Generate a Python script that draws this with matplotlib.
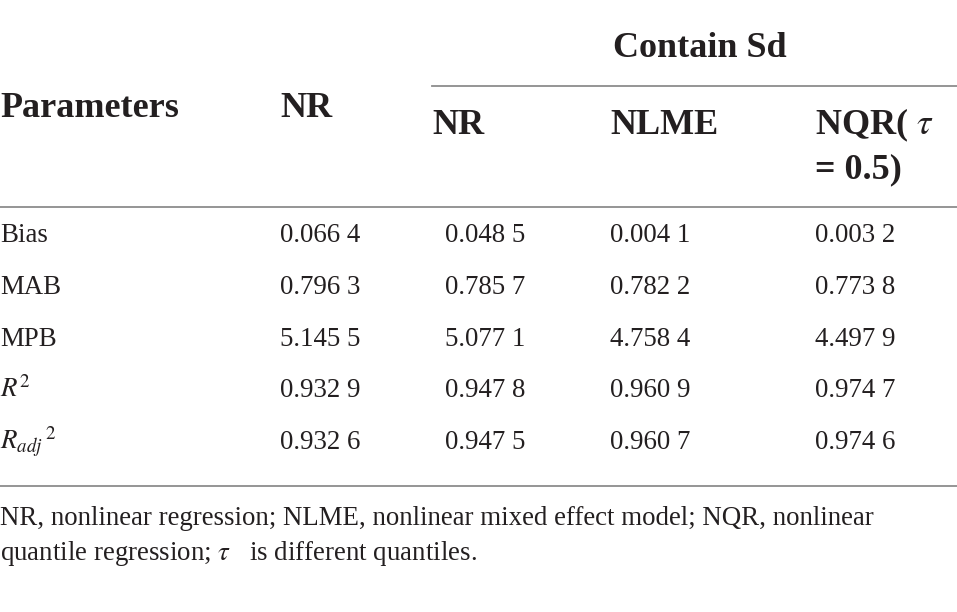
import matplotlib
matplotlib.use("Agg")
import matplotlib.pyplot as plt

plt.rcParams['font.family'] = ['Liberation Serif', 'DejaVu Serif']
plt.rcParams['mathtext.fontset'] = 'stix'

# 表格数据
params = ['Bias', 'MAB', 'MPB', '$R^{2}$', '$R_{adj}\\,^{2}$']
nr = [0.0664, 0.7963, 5.1455, 0.9329, 0.9326]
sd_nr = [0.0485, 0.7857, 5.0771, 0.9478, 0.9475]
sd_nlme = [0.0041, 0.7822, 4.7584, 0.9609, 0.9607]
sd_nqr = [0.0032, 0.7738, 4.4979, 0.9747, 0.9746]
note = ['NR, nonlinear regression; NLME, nonlinear mixed effect model; NQR, nonlinear',
        'quantile regression; $\\tau$   is different quantiles.']


def fmt(v):
    s = '%.4f' % v
    return s[:-1] + ' ' + s[-1]


W, H = 957, 612
fig = plt.figure(figsize=(W / 100, H / 100), dpi=100)
ax = fig.add_axes([0, 0, 1, 1])
ax.set_xlim(0, W)
ax.set_ylim(H, 0)
ax.axis('off')

txt = '#231f20'
line = '#8c8c8c'
hsize = 26
bsize = 19.4

# 表头
ax.text(613, 57, 'Contain Sd', fontsize=hsize, fontweight='bold', color=txt, va='baseline')
ax.text(0, 117, 'Parameters', fontsize=hsize, fontweight='bold', color=txt, va='baseline')
ax.text(280, 117, 'NR', fontsize=hsize, fontweight='bold', color=txt, va='baseline')
ax.text(432, 134, 'NR', fontsize=hsize, fontweight='bold', color=txt, va='baseline')
ax.text(610, 134, 'NLME', fontsize=hsize, fontweight='bold', color=txt, va='baseline')
ax.text(815, 134, 'NQR( $\\tau$', fontsize=hsize, fontweight='bold', color=txt, va='baseline')
ax.text(815, 178, '= 0.5)', fontsize=hsize, fontweight='bold', color=txt, va='baseline')

ax.plot([432, W], [86, 86], color=line, lw=1.3)
ax.plot([0, W], [207, 207], color=line, lw=1.3)
ax.plot([0, W], [486, 486], color=line, lw=1.3)

cols = [(280, nr), (445, sd_nr), (610, sd_nlme), (815, sd_nqr)]
for i, p in enumerate(params):
    y = 242 + i * 51.8
    ax.text(0, y, p, fontsize=bsize, color=txt, va='baseline')
    for x, vals in cols:
        ax.text(x, y, fmt(vals[i]), fontsize=bsize, color=txt, va='baseline')

ax.text(0, 525, note[0], fontsize=bsize, color=txt, va='baseline')
ax.text(0, 560, note[1], fontsize=bsize, color=txt, va='baseline')

fig.savefig('out.png', dpi=100)
